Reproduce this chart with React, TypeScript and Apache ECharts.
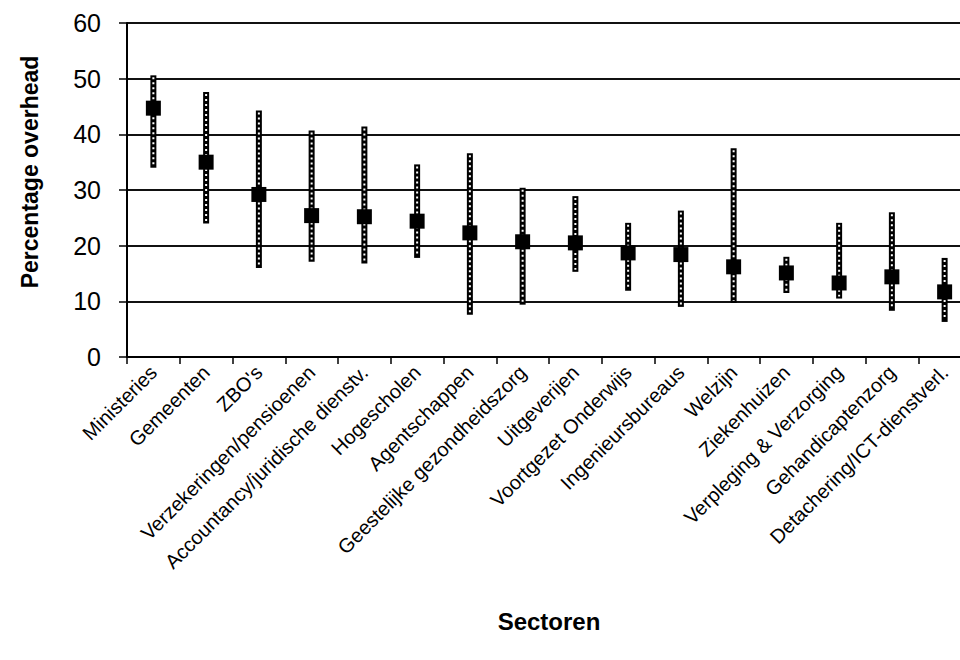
import React, { useEffect, useRef } from "react";
import * as echarts from "echarts";

const categories = [
  "Ministeries",
  "Gemeenten",
  "ZBO's",
  "Verzekeringen/pensioenen",
  "Accountancy/juridische dienstv.",
  "Hogescholen",
  "Agentschappen",
  "Geestelijke gezondheidszorg",
  "Uitgeverijen",
  "Voortgezet Onderwijs",
  "Ingenieursbureaus",
  "Welzijn",
  "Ziekenhuizen",
  "Verpleging & Verzorging",
  "Gehandicaptenzorg",
  "Detachering/ICT-dienstverl.",
];

const meanValues = [44.7, 35.0, 29.2, 25.4, 25.2, 24.4, 22.3, 20.7, 20.5, 18.7, 18.4, 16.2, 15.1, 13.3, 14.4, 11.7];
const lowValues = [34.0, 24.0, 16.0, 17.1, 16.8, 17.8, 7.6, 9.4, 15.3, 11.9, 9.0, 9.7, 11.5, 10.5, 8.3, 6.3];
const highValues = [50.6, 47.6, 44.3, 40.7, 41.4, 34.6, 36.6, 30.4, 28.9, 24.1, 26.3, 37.5, 18.0, 24.1, 26.0, 17.8];

const yTicks = { min: 0, max: 60, interval: 10 };

const FONT = "'Liberation Sans', Arial, sans-serif";

export default function App() {
  const ref = useRef<HTMLDivElement>(null);

  useEffect(() => {
    document.body.style.margin = "0";
    if (!ref.current) return;
    const chart = echarts.init(ref.current, null, { renderer: "svg" });

    const errData = meanValues.map((_, i) => [i, lowValues[i], highValues[i]]);

    chart.setOption({
      animation: false,
      backgroundColor: "#ffffff",
      grid: {
        left: 127,
        top: 23,
        height: 334,
        width: 844,
        containLabel: false,
        outerBoundsMode: "none",
      },
      graphic: [
        {
          type: "text",
          x: 30,
          y: 172,
          rotation: Math.PI / 2,
          style: {
            text: "Percentage overhead",
            fontFamily: FONT,
            fontSize: 23,
            fontWeight: "bold",
            fill: "#000",
            align: "center",
            verticalAlign: "middle",
          },
        },
      ],
      xAxis: {
        type: "category",
        data: categories,
        boundaryGap: true,
        name: "Sectoren",
        nameLocation: "middle",
        nameGap: 252,
        nameTextStyle: { fontFamily: FONT, fontSize: 24, fontWeight: "bold", color: "#000" },
        axisLine: { lineStyle: { color: "#000", width: 2 } },
        axisTick: { show: true, length: 7, inside: false, lineStyle: { color: "#000", width: 1.5 } },
        axisLabel: {
          interval: 0,
          rotate: 45,
          margin: 12,
          fontFamily: FONT,
          fontSize: 20,
          color: "#000",
        },
        splitLine: { show: false },
      },
      yAxis: {
        type: "value",
        min: yTicks.min,
        max: yTicks.max,
        interval: yTicks.interval,
        axisLine: { show: true, lineStyle: { color: "#000", width: 2 } },
        axisTick: { show: true, length: 8, inside: false, lineStyle: { color: "#000", width: 1.5 } },
        axisLabel: { margin: 26, fontFamily: FONT, fontSize: 25, color: "#000" },
        splitLine: { show: true, lineStyle: { color: "#111", width: 2 } },
      },
      series: [
        {
          type: "custom",
          data: errData,
          z: 2,
          renderItem: (params: any, api: any) => {
            const x = api.value(0);
            const top = api.coord([x, api.value(2)]);
            const bot = api.coord([x, api.value(1)]);
            return {
              type: "group",
              children: [
                {
                  type: "line",
                  shape: { x1: top[0], y1: top[1], x2: bot[0], y2: bot[1] },
                  style: { stroke: "#000", lineWidth: 6 },
                },
                {
                  type: "line",
                  shape: { x1: top[0], y1: top[1] + 2, x2: bot[0], y2: bot[1] - 2 },
                  style: { stroke: "#fff", lineWidth: 2, lineDash: [2, 3] },
                },
              ],
            };
          },
        },
        {
          type: "scatter",
          data: meanValues,
          symbol: "rect",
          symbolSize: 15,
          itemStyle: { color: "#000", opacity: 1 },
          z: 3,
        },
      ],
    });

    return () => chart.dispose();
  }, []);

  return <div ref={ref} style={{ width: 960, height: 660 }} />;
}
